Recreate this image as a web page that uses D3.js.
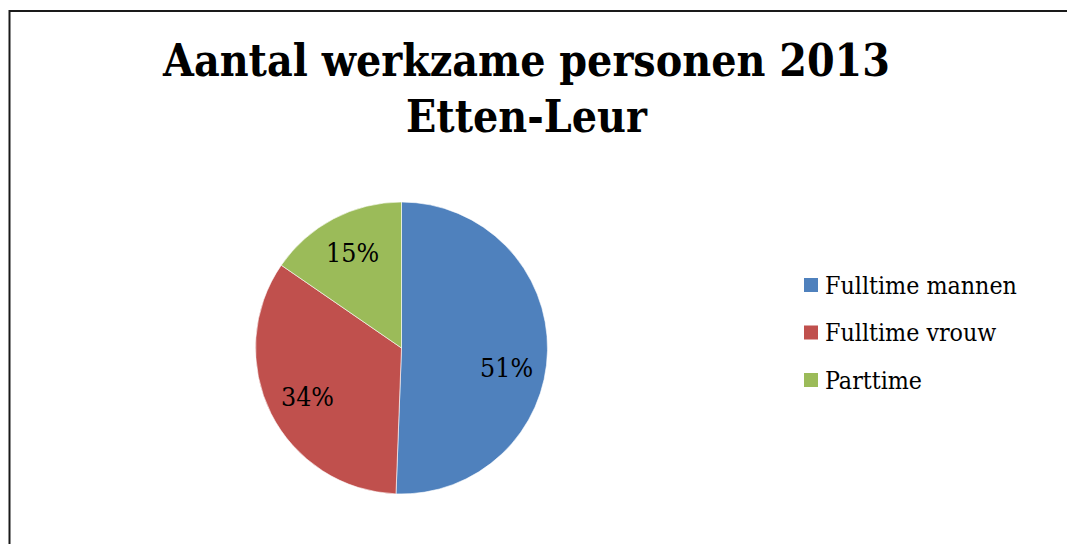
<!DOCTYPE html>
<html>
<head>
<meta charset="utf-8">
<script src="https://cdn.jsdelivr.net/npm/d3@7"></script>
<style>
  html, body { margin: 0; padding: 0; background: #fff; }
  svg { display: block; }
  text { font-family: "DejaVu Serif Condensed", "DejaVu Serif", serif; font-stretch: condensed; fill: #000; }
</style>
</head>
<body>
<svg id="chart"></svg>
<script>
const titleLines = ['Aantal werkzame personen 2013', 'Etten-Leur'];
const categories = ['Fulltime mannen', 'Fulltime vrouw', 'Parttime'];
const values = [50.6, 34.0, 15.4];
const colors = ['#4F81BD', '#C0504D', '#9BBB59'];

const w = 1067;
const h = 544;

const svg = d3.select('#chart')
    .attr('width', w)
    .attr('height', h);

// scale a text's font size so it is as wide as the target
function fitWidth(sel, target) {
  const node = sel.node();
  const fs = parseFloat(sel.attr('font-size'));
  const len = node.getComputedTextLength();
  sel.attr('font-size', fs * target / len);
}

// frame, cut by the bottom and right edges
svg.append('rect')
    .attr('x', 9.5)
    .attr('y', 11)
    .attr('width', w + 20)
    .attr('height', h + 20)
    .attr('fill', 'none')
    .attr('stroke', '#1a1a1a')
    .attr('stroke-width', 2);

// title
const title = svg.append('g');
const t1 = title.append('text')
    .attr('x', 526.5)
    .attr('y', 76)
    .attr('text-anchor', 'middle')
    .attr('font-weight', 'bold')
    .attr('font-size', 44)
    .text(titleLines[0]);
fitWidth(t1, 727);
title.append('text')
    .attr('x', 526.5)
    .attr('y', 132)
    .attr('text-anchor', 'middle')
    .attr('font-weight', 'bold')
    .attr('font-size', t1.attr('font-size'))
    .text(titleLines[1]);

// pie
const cx = 401.5, cy = 348, r = 146;
const total = d3.sum(values);
const pie = d3.pie().sort(null).value(d => d);
const arcs = pie(values);
const arc = d3.arc().innerRadius(0).outerRadius(r);
const labelArc = d3.arc().innerRadius(r * 0.72).outerRadius(r * 0.72);

const g = svg.append('g').attr('transform', `translate(${cx},${cy})`);

g.selectAll('path')
    .data(arcs)
    .enter()
    .append('path')
    .attr('d', arc)
    .attr('fill', (d, i) => colors[i])
    .attr('stroke', '#fff')
    .attr('stroke-width', 0.6);

// the big slice's label sits a little lower in the original
const labelNudge = [18, 2, -2];
const labels = g.selectAll('text.lbl')
    .data(arcs)
    .enter()
    .append('text')
    .attr('class', 'lbl')
    .attr('transform', (d, i) => {
      const [x, y] = labelArc.centroid(d);
      return `translate(${x},${y + labelNudge[i]})`;
    })
    .attr('text-anchor', 'middle')
    .attr('dy', '0.35em')
    .attr('font-size', 22)
    .text(d => Math.round(d.value / total * 100) + '%');
// match width of "51%" in the reference
const probe = labels.filter((d, i) => i === 0);
fitWidth(probe, 53);
labels.attr('font-size', probe.attr('font-size'));

// legend
const legend = svg.append('g').attr('transform', 'translate(804,278)');
const items = legend.selectAll('g')
    .data(categories)
    .enter()
    .append('g')
    .attr('transform', (d, i) => `translate(0,${i * 47.5})`);
items.append('rect')
    .attr('width', 14)
    .attr('height', 14)
    .attr('fill', (d, i) => colors[i]);
const legText = items.append('text')
    .attr('x', 21)
    .attr('y', 15.5)
    .attr('font-size', 22)
    .text(d => d);
const first = legText.filter((d, i) => i === 0);
fitWidth(first, 192);
legText.attr('font-size', first.attr('font-size'));
</script>
</body>
</html>
